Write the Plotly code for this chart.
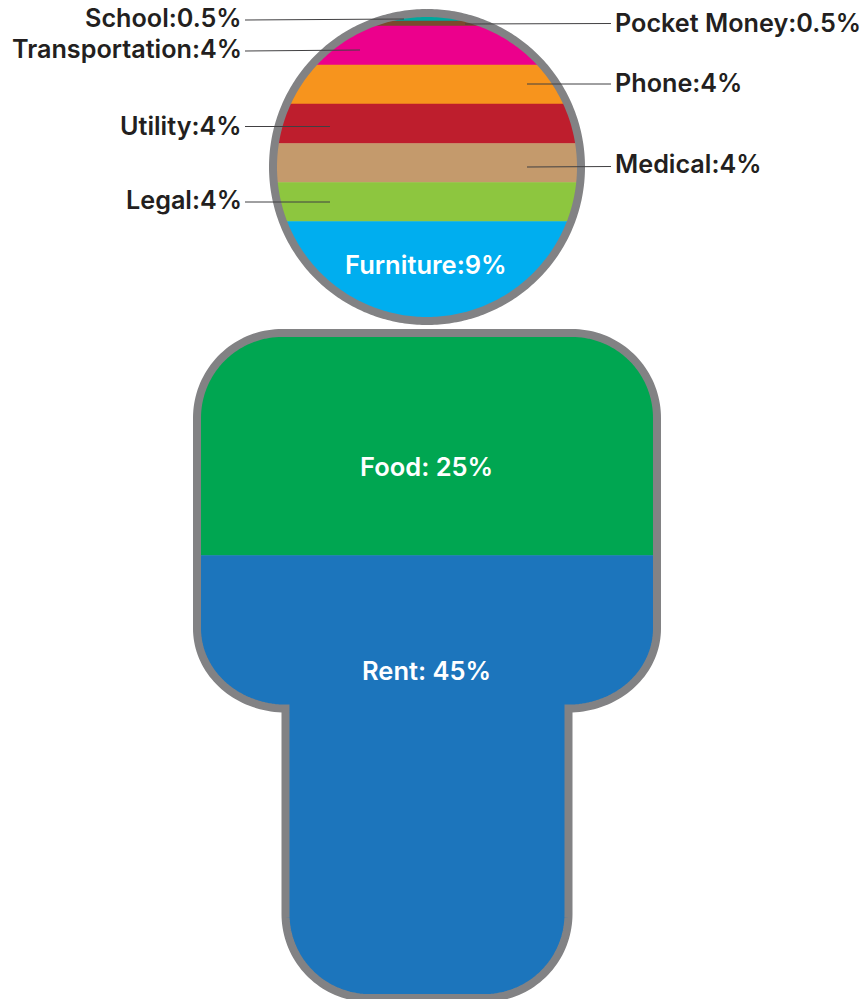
import numpy as np
import plotly.graph_objects as go

# ---- data ----
head_categories = ["School", "Pocket Money", "Transportation", "Phone", "Utility", "Medical", "Legal", "Furniture"]
head_labels = ["0.5%", "0.5%", "4%", "4%", "4%", "4%", "4%", "9%"]
head_band_heights = [8, 5, 39, 39, 39.5, 39, 39, 99]
head_colors = ["#00A79D", "#7B4A2D", "#EC008C", "#F7941D", "#BE1E2D", "#C49A6C", "#8DC63F", "#00AEEF"]

body_categories = ["Food", "Rent"]
body_labels = ["25%", "45%"]
body_band_heights = [222.5, 443]
body_colors = ["#00A651", "#1C75BC"]

GREY = "#828284"
INK = "#231F20"
FONT = "Inter"

# ---- geometry of the figure, in page units ----
CX = 427.0
HEAD_CY, HEAD_R = 167.0, 154.0
BODY_TOP, BODY_HW, BODY_R = 333.0, 230.0, 85.0
SHOULDER_Y, NECK_HW, SHOULDER_RY = 708.5, 141.5, 80.0
BODY_BOTTOM, FOOT_R = 998.0, 84.0


def arc(cx, cy, rx, ry, a0, a1, n=40):
    t = np.radians(np.linspace(a0, a1, n))
    return cx + rx * np.cos(t), cy + ry * np.sin(t)


def head_profile():
    return arc(0, HEAD_CY, HEAD_R, HEAD_R, -90, 90, 200)


def body_profile():
    x1, y1 = arc(BODY_HW - BODY_R, BODY_TOP + BODY_R, BODY_R, BODY_R, -90, 0)
    x2, y2 = arc(NECK_HW, SHOULDER_Y - SHOULDER_RY, BODY_HW - NECK_HW, SHOULDER_RY, 0, 90)
    x3, y3 = arc(NECK_HW - FOOT_R, BODY_BOTTOM - FOOT_R, FOOT_R, FOOT_R, 0, 90)
    return np.r_[0, x1, x2, x3, 0], np.r_[BODY_TOP, y1, y2, y3, BODY_BOTTOM]


def band_polygon(px, py, y0, y1):
    """Cut a symmetric profile between two heights and mirror it."""
    inside = (py > y0) & (py < y1)
    xa = np.interp(y0, py, px)
    xb = np.interp(y1, py, px)
    rx = np.r_[xa, px[inside], xb]
    ry = np.r_[y0, py[inside], y1]
    return np.r_[CX + rx, (CX - rx)[::-1], CX + rx[0]], np.r_[ry, ry[::-1], ry[0]]


fig = go.Figure()

# head bands
hx, hy = head_profile()
edge = HEAD_CY - HEAD_R
for name, h, col in zip(head_categories, head_band_heights, head_colors):
    bx, by = band_polygon(hx, hy, edge, edge + h)
    fig.add_trace(go.Scatter(x=bx, y=by, mode="lines", fill="toself", fillcolor=col,
                             line=dict(color=col, width=0.5, simplify=False), name=name, hoverinfo="name"))
    edge += h

# body bands
sx, sy = body_profile()
edge = BODY_TOP
for name, h, col in zip(body_categories, body_band_heights, body_colors):
    bx, by = band_polygon(sx, sy, edge, edge + h)
    fig.add_trace(go.Scatter(x=bx, y=by, mode="lines", fill="toself", fillcolor=col,
                             line=dict(color=col, width=0.5, simplify=False), name=name, hoverinfo="name"))
    edge += h

# outlines
fig.add_trace(go.Scatter(x=np.r_[CX + hx, (CX - hx)[::-1]], y=np.r_[hy, hy[::-1]], mode="lines",
                         line=dict(color=GREY, width=8, simplify=False), hoverinfo="skip"))
fig.add_trace(go.Scatter(x=np.r_[CX + sx, (CX - sx)[::-1]], y=np.r_[sy, sy[::-1]], mode="lines",
                         line=dict(color=GREY, width=8, simplify=False), hoverinfo="skip"))

# leader lines: category -> (label end, band end)
leaders = {
    "School": ((245, 20), (404, 19)),
    "Transportation": ((245, 51), (360, 50)),
    "Utility": ((245, 126.5), (330, 126.5)),
    "Legal": ((245, 202), (330, 202)),
    "Pocket Money": ((611, 23.5), (465, 24)),
    "Phone": ((611, 84), (527, 84)),
    "Medical": ((611, 166.5), (527, 167)),
}
for name, (a, b) in leaders.items():
    fig.add_trace(go.Scatter(x=[a[0], b[0]], y=[a[1], b[1]], mode="lines",
                             line=dict(color="#414042", width=1), hoverinfo="skip"))

# text
label_of = dict(zip(head_categories, head_labels))
text_pos = {
    "School": (243, 17.5, "right"),
    "Transportation": (243, 48.5, "right"),
    "Utility": (243, 125.5, "right"),
    "Legal": (243, 199.5, "right"),
    "Pocket Money": (614, 22.5, "left"),
    "Phone": (614, 82.5, "left"),
    "Medical": (614, 163.5, "left"),
}
SIZE = 25.2
INNER_SIZE = 25.5
WEIGHT = 600
for name, (x, y, anchor) in text_pos.items():
    fig.add_annotation(x=x, y=y, text=f"{name}:{label_of[name]}", showarrow=False, xanchor=anchor,
                       yanchor="middle", borderpad=0,
                       font=dict(family=FONT, size=SIZE, color=INK, weight=WEIGHT))
fig.add_annotation(x=426, y=264.5, text=f"Furniture:{label_of['Furniture']}", showarrow=False,
                   font=dict(family=FONT, size=INNER_SIZE, color="white", weight=WEIGHT))
for name, lab, y in zip(body_categories, body_labels, [466.5, 670.5]):
    fig.add_annotation(x=426, y=y, text=f"{name}: {lab}", showarrow=False,
                       font=dict(family=FONT, size=INNER_SIZE, color="white", weight=WEIGHT))

fig.update_layout(
    width=867, height=999, margin=dict(l=0, r=0, t=0, b=0), showlegend=False,
    paper_bgcolor="white", plot_bgcolor="white",
    xaxis=dict(range=[0, 867], visible=False, fixedrange=True),
    yaxis=dict(range=[999, 0], visible=False, fixedrange=True),
)
fig.write_html("out.html", config=dict(displayModeBar=False),
               post_script="document.body.style.margin='0';document.body.style.overflow='hidden';")
